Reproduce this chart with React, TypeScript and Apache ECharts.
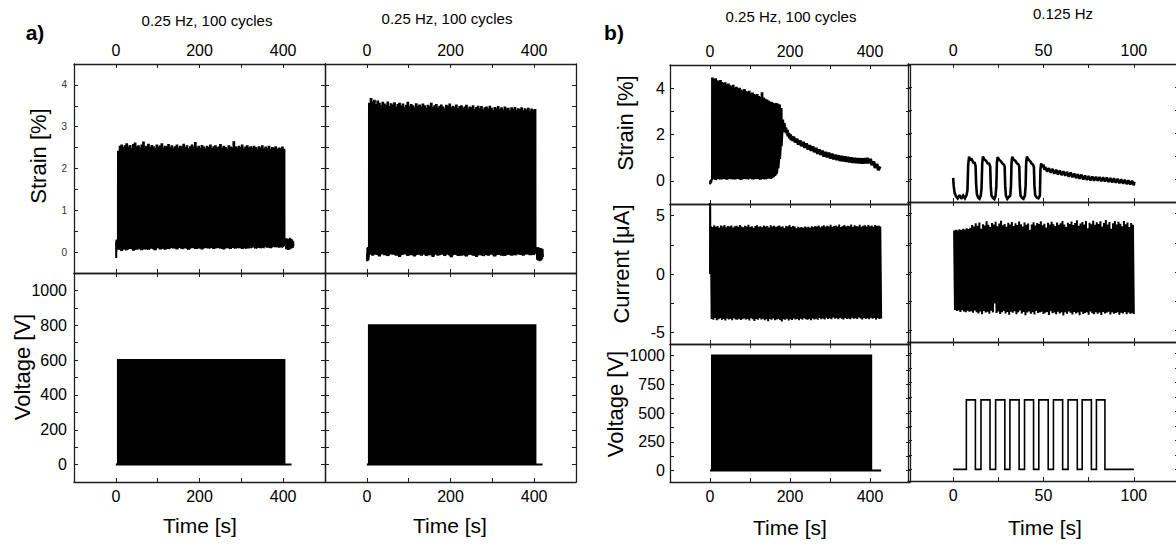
import React, { useEffect, useRef } from "react";
import * as echarts from "echarts";

type Pt = [number, number];

// ---------------- data ----------------
const CYCLES = 100; // 100 cycles
const PERIOD_025HZ = 4; // s, 0.25 Hz
const CYCLE_START = 5; // s

// tick / label values
const aTimeTicks = [0, 100, 200, 300, 400];
const aTimeLabels = [0, 200, 400];
const aStrainTicks = [0, 0.5, 1, 1.5, 2, 2.5, 3, 3.5, 4];
const aStrainLabels = [0, 1, 2, 3, 4];
const aVoltTicks = [0, 100, 200, 300, 400, 500, 600, 700, 800, 900, 1000];
const aVoltLabels = [0, 200, 400, 600, 800, 1000];
const bTimeTicks = [0, 100, 200, 300, 400];
const bTimeLabels = [0, 200, 400];
const bShortTimeTicks = [0, 25, 50, 75, 100];
const bShortTimeLabels = [0, 50, 100];
const bStrainTicks = [0, 1, 2, 3, 4];
const bStrainLabels = [0, 2, 4];
const bCurrentTicks = [-5, -2.5, 0, 2.5, 5];
const bCurrentLabels = [-5, 0, 5];
const bVoltTicks = [0, 125, 250, 375, 500, 625, 750, 875, 1000];
const bVoltLabels = [0, 250, 500, 750, 1000];

// voltage amplitudes [V]
const voltAmplitudes = { aLeft: 600, aRight: 800, bLeft: 1000, bRight: 600 };

// a) left strain: per-cycle peak / trough [%]
const aLeftStrainPeaks = [
  2.40, 2.52, 2.55, 2.49, 2.53, 2.58, 2.50, 2.54, 2.47, 2.56,
  2.60, 2.51, 2.53, 2.48, 2.55, 2.62, 2.50, 2.52, 2.57, 2.49,
  2.54, 2.51, 2.47, 2.55, 2.50, 2.53, 2.58, 2.48, 2.52, 2.50,
  2.56, 2.49, 2.53, 2.47, 2.51, 2.55, 2.48, 2.52, 2.50, 2.57,
  2.49, 2.53, 2.46, 2.51, 2.55, 2.50, 2.61, 2.48, 2.52, 2.47,
  2.54, 2.50, 2.46, 2.52, 2.49, 2.55, 2.47, 2.51, 2.53, 2.48,
  2.50, 2.56, 2.47, 2.52, 2.49, 2.45, 2.53, 2.50, 2.48, 2.63,
  2.51, 2.47, 2.52, 2.49, 2.55, 2.46, 2.50, 2.53, 2.48, 2.51,
  2.47, 2.52, 2.49, 2.45, 2.51, 2.48, 2.53, 2.46, 2.50, 2.47,
  2.52, 2.45, 2.49, 2.47, 2.51, 2.44, 2.48, 2.46, 2.50, 2.45,
];
const aLeftStrainTroughs = [
  0.06, 0.09, 0.03, 0.11, 0.07, 0.05, 0.10, 0.08, 0.12, 0.04,
  0.09, 0.06, 0.11, 0.08, 0.05, 0.13, 0.07, 0.10, 0.06, 0.09,
  0.12, 0.08, 0.05, 0.10, 0.14, 0.07, 0.09, 0.11, 0.06, 0.13,
  0.08, 0.10, 0.15, 0.09, 0.12, 0.07, 0.11, 0.14, 0.08, 0.10,
  0.13, 0.09, 0.06, 0.12, 0.10, 0.14, 0.08, 0.11, 0.09, 0.13,
  0.07, 0.12, 0.10, 0.15, 0.09, 0.11, 0.13, 0.08, 0.12, 0.10,
  0.14, 0.09, 0.11, 0.07, 0.13, 0.10, 0.12, 0.08, 0.15, 0.11,
  0.09, 0.13, 0.10, 0.14, 0.08, 0.12, 0.11, 0.09, 0.13, 0.10,
  0.12, 0.15, 0.09, 0.11, 0.14, 0.10, 0.13, 0.12, 0.16, 0.11,
  0.14, 0.10, 0.13, 0.15, 0.12, 0.16, 0.11, 0.14, 0.13, 0.15,
];
const aLeftStrainPre: Pt[] = [
  [0.6, 0.24], [0.9, -0.14], [1.3, 0.29], [1.7, 0.02], [2.1, 0.3], [2.5, 0.06],
  [2.9, 0.27], [3.3, 0.1], [3.7, 0.3], [4.1, 0.13], [4.5, 0.28], [4.9, 0.16],
];
const aLeftStrainPost: Pt[] = [
  [406, 0.31], [407, 0.07], [408, 0.33], [409, 0.1], [410, 0.29], [411, 0.05],
  [412, 0.32], [413, 0.09], [414, 0.3], [415, 0.06], [416, 0.34], [417, 0.11],
  [418, 0.3], [419, 0.08], [420, 0.32], [421, 0.12], [422, 0.28], [423, 0.1],
  [424, 0.26], [424.5, 0.14],
];

// a) right strain
const aRightStrainPeaks = [
  3.55, 3.66, 3.58, 3.62, 3.52, 3.60, 3.55, 3.49, 3.57, 3.53,
  3.50, 3.58, 3.47, 3.54, 3.51, 3.56, 3.46, 3.52, 3.55, 3.48,
  3.53, 3.45, 3.50, 3.57, 3.47, 3.52, 3.49, 3.44, 3.54, 3.48,
  3.51, 3.46, 3.53, 3.49, 3.43, 3.50, 3.47, 3.55, 3.45, 3.49,
  3.52, 3.44, 3.48, 3.51, 3.46, 3.42, 3.50, 3.47, 3.53, 3.44,
  3.48, 3.45, 3.51, 3.42, 3.47, 3.49, 3.43, 3.46, 3.50, 3.41,
  3.46, 3.44, 3.49, 3.40, 3.45, 3.48, 3.42, 3.47, 3.39, 3.44,
  3.46, 3.41, 3.48, 3.43, 3.38, 3.45, 3.42, 3.47, 3.40, 3.44,
  3.39, 3.46, 3.41, 3.43, 3.37, 3.44, 3.40, 3.45, 3.38, 3.42,
  3.40, 3.44, 3.37, 3.42, 3.39, 3.43, 3.36, 3.41, 3.38, 3.40,
];
const aRightStrainTroughs = [
  -0.05, -0.02, -0.08, 0.01, -0.06, -0.03, -0.10, -0.04, 0.00, -0.07,
  -0.03, -0.09, -0.05, 0.02, -0.06, -0.02, -0.08, -0.04, -0.11, -0.03,
  -0.06, 0.01, -0.05, -0.09, -0.02, -0.07, -0.04, -0.10, -0.03, -0.06,
  0.00, -0.08, -0.05, -0.02, -0.09, -0.04, -0.07, -0.03, -0.11, -0.05,
  -0.02, -0.08, -0.04, -0.06, 0.01, -0.09, -0.05, -0.03, -0.07, -0.12,
  -0.04, -0.06, -0.02, -0.09, -0.05, -0.08, -0.03, -0.07, -0.10, -0.04,
  -0.06, -0.02, -0.08, -0.05, -0.11, -0.03, -0.07, -0.04, -0.09, -0.06,
  -0.03, -0.08, -0.05, -0.02, -0.07, -0.10, -0.04, -0.06, -0.03, -0.08,
  -0.05, -0.09, -0.02, -0.06, -0.04, -0.08, -0.03, -0.07, -0.05, -0.01,
  -0.06, -0.04, -0.08, -0.03, -0.05, -0.02, -0.07, -0.04, -0.06, -0.03,
];
const aRightStrainPre: Pt[] = [
  [0.4, -0.05], [0.8, -0.22], [1.3, 0.1], [1.8, -0.18], [2.3, 0.12],
  [2.8, -0.15], [3.3, 0.08], [3.8, -0.2], [4.3, 0.1], [4.8, -0.12],
];
const aRightStrainPost: Pt[] = [
  [406, 0.1], [407, -0.18], [408, 0.12], [409, -0.2], [410, 0.08], [411, -0.15],
  [412, 0.11], [413, -0.22], [414, 0.09], [415, -0.17], [416, 0.1], [417, -0.2],
  [418, 0.06], [419, -0.16], [420, 0.08], [421, -0.12],
];

// b) left strain: 45 cycles before failure, then relaxation band
const bLeftStrainPeaks = [
  4.42, 4.35, 4.38, 4.30, 4.27, 4.31, 4.22, 4.18, 4.21, 4.12,
  4.16, 4.08, 4.05, 4.10, 3.98, 4.02, 3.95, 3.97, 3.90, 3.86,
  3.92, 3.83, 3.80, 3.85, 3.74, 3.77, 3.70, 3.66, 3.71, 3.62,
  3.58, 3.78, 3.55, 3.50, 3.47, 3.42, 3.38, 3.36, 3.33, 3.30,
  3.32, 3.28, 3.25, 3.10, 2.60,
];
const bLeftStrainTroughs = [
  0.08, 0.12, 0.05, 0.10, 0.14, 0.07, 0.11, 0.09, 0.13, 0.06,
  0.10, 0.15, 0.08, 0.12, 0.07, 0.11, 0.14, 0.09, 0.06, 0.12,
  0.10, 0.13, 0.08, 0.11, 0.15, 0.07, 0.12, 0.09, 0.14, 0.10,
  0.06, 0.13, 0.11, 0.08, 0.12, 0.15, 0.10, 0.13, 0.18, 0.22,
  0.30, 0.55, 0.95, 1.50, 2.10,
];
const bLeftStrainPre: Pt[] = [
  [0, -0.15], [0.8, 0.02], [1.6, -0.12], [2.4, 0.05], [3.2, -0.06], [4.2, 0.04],
];
const bLeftStrainTail: Pt[] = [
  [185, 2.5], [187, 2.2], [189, 2.3], [191, 2.05], [193, 2.2], [195, 1.92],
  [197, 2.06], [199, 1.84], [201, 2.0], [203, 1.76], [205, 1.92], [207, 1.72],
  [209, 1.9], [213, 1.66], [217, 1.82], [221, 1.56], [225, 1.74], [229, 1.5],
  [233, 1.68], [237, 1.43], [241, 1.61], [245, 1.36], [249, 1.54], [253, 1.3],
  [257, 1.48], [261, 1.24], [265, 1.42], [269, 1.17], [273, 1.36], [277, 1.12],
  [281, 1.3], [285, 1.05], [289, 1.25], [293, 1.02], [297, 1.21], [301, 0.97],
  [305, 1.17], [309, 0.93], [313, 1.13], [317, 0.9], [321, 1.1], [325, 0.86],
  [329, 1.07], [333, 0.84], [337, 1.05], [341, 0.82], [345, 1.03], [349, 0.8],
  [353, 1.01], [357, 0.78], [361, 0.99], [365, 0.77], [369, 0.98], [373, 0.76],
  [377, 0.97], [381, 0.75], [385, 0.97], [389, 0.76], [393, 0.99], [397, 0.76],
  [401, 0.95], [405, 0.68], [409, 0.84], [413, 0.56], [417, 0.73], [421, 0.46],
  [425, 0.62],
];

// b) left current: spike maxima / minima [µA]
const bLeftCurrentStartSpike: Pt[] = [[0, 0], [0.3, 7], [1.2, 0]];
const bLeftCurrentUpper = [
  4.10, 4.02, 4.18, 4.05, 4.12, 3.96, 4.15, 4.08, 4.20, 4.01,
  4.11, 4.06, 4.16, 3.98, 4.09, 4.13, 4.04, 4.19, 4.07, 4.00,
  4.14, 4.08, 4.22, 4.03, 4.10, 3.97, 4.12, 4.17, 4.05, 4.09,
  4.01, 4.15, 4.06, 4.11, 3.99, 4.18, 4.07, 4.13, 4.02, 4.10,
  4.16, 4.04, 4.09, 3.95, 4.12, 4.06, 4.20, 4.03, 4.11, 4.08,
  3.93, 4.05, 3.98, 4.02, 3.96, 4.07, 4.00, 4.04, 3.97, 4.09,
  4.03, 4.12, 4.06, 4.15, 4.01, 4.10, 4.18, 4.05, 4.13, 4.08,
  4.21, 4.04, 4.11, 4.16, 4.07, 4.24, 4.02, 4.12, 4.19, 4.06,
  4.14, 4.09, 4.25, 4.03, 4.17, 4.11, 4.08, 4.22, 4.05, 4.13,
  4.18, 4.07, 4.20, 4.10, 4.15, 4.04, 4.19, 4.12, 4.16, 4.08,
];
const bLeftCurrentLower = [
  -3.85, -3.92, -3.78, -3.96, -3.88, -3.80, -3.94, -3.86, -3.99, -3.82,
  -3.90, -3.84, -3.97, -3.79, -3.89, -3.93, -3.83, -3.95, -3.87, -3.81,
  -3.91, -3.86, -3.98, -3.80, -3.88, -4.02, -3.85, -3.92, -3.79, -3.90,
  -3.84, -3.96, -3.88, -4.05, -3.86, -3.93, -3.81, -3.97, -3.89, -3.85,
  -3.94, -4.08, -3.87, -3.92, -3.83, -3.99, -3.88, -3.95, -3.82, -3.90,
  -3.86, -3.96, -3.84, -3.91, -3.79, -3.88, -3.93, -3.85, -3.97, -3.81,
  -3.89, -3.84, -3.92, -3.78, -3.87, -3.82, -3.90, -3.75, -3.86, -3.80,
  -3.88, -3.73, -3.84, -3.79, -3.87, -3.76, -3.83, -3.90, -3.78, -3.85,
  -3.81, -3.88, -3.74, -3.84, -3.79, -3.86, -3.72, -3.82, -3.89, -3.77,
  -3.85, -3.80, -3.87, -3.75, -3.83, -3.78, -3.91, -3.80, -3.86, -3.82,
];
const bLeftCurrentSpacing = 4.28; // s between spike pairs
const bLeftCurrentStart = 2;

// b) right strain (0.125 Hz), [t, strain]
const bRightStrain: Pt[] = [
  [0, 0.05], [0.3, -0.3], [0.8, -0.6], [1.5, -0.74], [2.5, -0.84], [3.5, -0.7],
  [4.5, -0.86], [5.5, -0.72], [6.5, -0.84], [7.4, -0.7],
  [7.9, -0.5], [8.3, 0.6], [8.8, 0.97], [9.5, 0.84], [10.3, 0.86], [11.1, 0.72],
  [11.9, 0.7], [12.4, 0.58], [12.7, -0.2], [13.1, -0.65], [13.8, -0.8], [14.6, -0.86], [15.3, -0.72],
  [15.7, -0.4], [16.1, 0.7], [16.5, 0.98], [17.3, 0.84], [18.2, 0.8], [19.1, 0.68],
  [20.0, 0.66], [20.5, 0.54], [20.8, -0.3], [21.2, -0.72], [22.0, -0.82], [22.8, -0.87], [23.5, -0.72],
  [23.9, -0.3], [24.2, 0.7], [24.6, 0.95], [25.4, 0.84], [26.3, 0.78], [27.2, 0.68],
  [28.0, 0.64], [28.5, 0.54], [28.8, -0.3], [29.2, -0.72], [30.0, -0.86], [30.8, -0.78], [31.6, -0.72],
  [32.0, -0.3], [32.3, 0.7], [32.7, 0.97], [33.5, 0.83], [34.4, 0.79], [35.3, 0.68],
  [36.1, 0.64], [36.6, 0.54], [36.9, -0.3], [37.3, -0.72], [38.1, -0.82], [38.9, -0.86], [39.7, -0.72],
  [40.1, -0.3], [40.4, 0.7], [40.8, 0.97], [41.6, 0.85], [42.5, 0.78], [43.4, 0.68],
  [44.2, 0.62], [44.7, 0.52], [45.0, -0.3], [45.4, -0.7], [46.2, -0.8], [47.2, -0.84], [48.0, -0.72],
  [48.3, 0.4], [48.7, 0.68], [49.2, 0.52], [50, 0.62], [50.5, 0.4], [51, 0.52], [52, 0.32],
  [53, 0.47], [54, 0.27], [55, 0.44], [56, 0.23], [57, 0.4], [58, 0.2], [59, 0.37],
  [60, 0.17], [61, 0.34], [62, 0.14], [63, 0.31], [64, 0.1], [65, 0.28], [66, 0.08],
  [67, 0.24], [68, 0.04], [69, 0.21], [70, 0.01], [71, 0.19], [72, -0.02], [73, 0.15],
  [74, -0.04], [75, 0.13], [76, -0.06], [77, 0.11], [78, -0.07], [79, 0.1], [80, -0.08],
  [81, 0.09], [82, -0.1], [83, 0.07], [84, -0.11], [85, 0.06], [86, -0.13], [87, 0.04],
  [88, -0.15], [89, 0.03], [90, -0.16], [91, 0.01], [92, -0.18], [93, -0.01], [94, -0.2],
  [95, -0.03], [96, -0.22], [97, -0.06], [98, -0.24], [99, -0.08], [100, -0.27], [100.3, -0.12],
];

// b) right current: noise maxima / minima [µA]
const bRightCurrentUpper = [
  3.55, 3.62, 3.58, 3.66, 3.60, 3.70, 3.64, 3.75, 3.68, 3.80,
  4.02, 3.90, 4.18, 3.96, 4.25, 3.70, 4.10, 3.98, 4.35, 4.05,
  3.85, 4.20, 4.08, 4.30, 3.92, 4.15, 4.40, 4.00, 4.12, 3.88,
  4.22, 4.06, 4.28, 3.95, 4.18, 4.02, 4.33, 4.10, 3.90, 4.24,
  4.05, 4.16, 3.60, 4.08, 4.26, 3.98, 4.20, 4.12, 4.35, 4.00,
  4.14, 3.82, 4.22, 4.06, 4.30, 4.10, 3.94, 4.25, 4.04, 4.18,
  4.38, 4.08, 3.86, 4.22, 4.12, 4.32, 4.02, 4.20, 4.44, 3.96,
  4.15, 4.28, 4.06, 4.36, 3.75, 4.22, 4.10, 4.40, 4.04, 4.26,
  4.12, 4.34, 3.90, 4.20, 4.45, 4.08, 4.28, 3.70, 4.18, 4.38,
  4.06, 4.30, 4.14, 3.92, 4.36, 4.10, 4.24, 3.85, 4.20, 4.05,
];
const bRightCurrentLower = [
  -3.25, -3.35, -3.30, -3.42, -3.28, -3.38, -3.45, -3.32, -3.40, -3.36,
  -3.50, -3.30, -3.44, -3.55, -3.38, -3.62, -3.35, -3.48, -3.40, -3.58,
  -3.32, -3.46, -2.70, -3.52, -3.38, -3.60, -3.44, -3.34, -3.56, -3.42,
  -3.66, -3.40, -3.50, -3.36, -3.62, -3.45, -3.30, -3.55, -3.42, -3.70,
  -3.48, -3.38, -3.58, -3.44, -3.64, -3.35, -3.52, -3.46, -3.40, -3.60,
  -3.50, -3.42, -3.68, -3.36, -3.54, -3.48, -3.62, -3.40, -3.56, -3.46,
  -3.72, -3.44, -3.58, -3.38, -3.50, -3.64, -3.42, -3.56, -3.48, -3.70,
  -3.40, -3.60, -3.52, -3.45, -3.66, -3.38, -3.54, -3.62, -3.44, -3.58,
  -3.48, -3.68, -3.42, -3.56, -3.50, -3.40, -3.64, -3.46, -3.58, -3.52,
  -3.44, -3.66, -3.50, -3.56, -3.42, -3.62, -3.48, -3.58, -3.54, -3.60,
];
const bRightCurrentSpacing = 1; // s
const bRightCurrentStart = 0.5;

// b) right voltage pulse edges [s]
const bRightVoltRises = [7.3, 15.4, 23.5, 31.4, 39.5, 47.4, 55.5, 63.6, 71.4, 79.3];
const bRightVoltFalls = [12.3, 20.4, 28.6, 36.5, 44.5, 52.6, 60.6, 68.7, 76.5, 84.0];

// ---------------- builders ----------------
function cycleStrain(pre: Pt[], peaks: number[], troughs: number[], start: number, period: number, post: Pt[]): Pt[] {
  const d: Pt[] = pre.slice();
  const half = period / 2;
  peaks.forEach((p, k) => {
    const t0 = start + k * period;
    d.push([t0, troughs[k]], [t0 + 0.15, p], [t0 + half, p], [t0 + half + 0.15, troughs[k]]);
  });
  return d.concat(post);
}
function squareWave(amp: number, cycles: number, start: number, period: number, end: number): Pt[] {
  const d: Pt[] = [[0, 0]];
  for (let k = 0; k < cycles; k++) {
    const t0 = start + k * period;
    const t1 = t0 + period / 2;
    d.push([t0, 0], [t0, amp], [t1, amp], [t1, 0]);
  }
  d.push([end, 0]);
  return d;
}
function spikeTrain(head: Pt[], up: number[], lo: number[], start: number, spacing: number): Pt[] {
  const d: Pt[] = head.slice();
  up.forEach((u, i) => {
    const t = start + i * spacing;
    d.push([t, u], [t + spacing / 2, lo[i]]);
  });
  return d;
}
function pulseTrain(rises: number[], falls: number[], amp: number, end: number): Pt[] {
  const d: Pt[] = [[0, 0]];
  rises.forEach((r, i) => d.push([r, 0], [r, amp], [falls[i], amp], [falls[i], 0]));
  d.push([end, 0]);
  return d;
}

const FONT = '"Liberation Sans", Arial, Helvetica, sans-serif';
const AXIS_COLOR = "#1e1e1e";
const DENSE = 2; // stroke width for densely cycled traces

type Range = { min: number; max: number; ticks: number[]; labels: number[] };
type Panel = {
  box: [number, number, number, number];
  x: Range;
  y: Range;
  topLabels: boolean;
  bottomLabels: boolean;
  leftLabels: boolean;
  ySize?: number;
  yColor?: string;
  yMargin?: number;
  series: { data: Pt[]; width: number }[];
};

function buildOption() {
  const aX: Range = { min: -100, max: 500, ticks: aTimeTicks, labels: aTimeLabels };
  const aS: Range = { min: -0.5, max: 4.5, ticks: aStrainTicks, labels: aStrainLabels };
  const aV: Range = { min: -100, max: 1100, ticks: aVoltTicks, labels: aVoltLabels };
  const bX: Range = { min: -100, max: 500, ticks: bTimeTicks, labels: bTimeLabels };
  const bX2: Range = { min: -25, max: 125, ticks: bShortTimeTicks, labels: bShortTimeLabels };
  const bS: Range = { min: -1, max: 5, ticks: bStrainTicks, labels: bStrainLabels };
  const bC: Range = { min: -6, max: 6, ticks: bCurrentTicks, labels: bCurrentLabels };
  const bV: Range = { min: -100, max: 1100, ticks: bVoltTicks, labels: bVoltLabels };

  const panels: Panel[] = [
    {
      box: [74, 64, 251, 209], x: aX, y: aS, topLabels: true, bottomLabels: false, leftLabels: true,
      ySize: 10, yColor: "#333", yMargin: 7,
      series: [{ data: cycleStrain(aLeftStrainPre, aLeftStrainPeaks, aLeftStrainTroughs, CYCLE_START, PERIOD_025HZ, aLeftStrainPost), width: DENSE }],
    },
    {
      box: [325, 64, 251, 209], x: aX, y: aS, topLabels: true, bottomLabels: false, leftLabels: false,
      series: [{ data: cycleStrain(aRightStrainPre, aRightStrainPeaks, aRightStrainTroughs, CYCLE_START, PERIOD_025HZ, aRightStrainPost), width: DENSE }],
    },
    {
      box: [74, 273, 251, 209], x: aX, y: aV, topLabels: false, bottomLabels: true, leftLabels: true, yMargin: 7,
      series: [{ data: squareWave(voltAmplitudes.aLeft, CYCLES, CYCLE_START, PERIOD_025HZ, 420), width: DENSE }],
    },
    {
      box: [325, 273, 251, 209], x: aX, y: aV, topLabels: false, bottomLabels: true, leftLabels: false,
      series: [{ data: squareWave(voltAmplitudes.aRight, CYCLES, CYCLE_START, PERIOD_025HZ, 420), width: DENSE }],
    },
    {
      box: [670, 65, 240, 139], x: bX, y: bS, topLabels: true, bottomLabels: false, leftLabels: true, yMargin: 5,
      series: [
        { data: cycleStrain(bLeftStrainPre, bLeftStrainPeaks, bLeftStrainTroughs, CYCLE_START, PERIOD_025HZ, []), width: DENSE },
        { data: [[183.15, bLeftStrainTroughs[bLeftStrainTroughs.length - 1]] as Pt].concat(bLeftStrainTail), width: 3.2 },
      ],
    },
    {
      box: [670, 204, 240, 140], x: bX, y: bC, topLabels: false, bottomLabels: false, leftLabels: true, yMargin: 5,
      series: [{ data: spikeTrain(bLeftCurrentStartSpike, bLeftCurrentUpper, bLeftCurrentLower, bLeftCurrentStart, bLeftCurrentSpacing), width: DENSE }],
    },
    {
      box: [670, 344, 240, 138], x: bX, y: bV, topLabels: false, bottomLabels: true, leftLabels: true, yMargin: 5,
      series: [{ data: squareWave(voltAmplitudes.bLeft, CYCLES, CYCLE_START, PERIOD_025HZ, 428), width: DENSE }],
    },
    {
      box: [908, 64, 271, 138], x: bX2, y: bS, topLabels: true, bottomLabels: false, leftLabels: false,
      series: [{ data: bRightStrain, width: 2.6 }],
    },
    {
      box: [908, 202, 271, 140], x: bX2, y: bC, topLabels: false, bottomLabels: false, leftLabels: false,
      series: [{ data: spikeTrain([], bRightCurrentUpper, bRightCurrentLower, bRightCurrentStart, bRightCurrentSpacing), width: DENSE }],
    },
    {
      box: [908, 342, 271, 139], x: bX2, y: bV, topLabels: false, bottomLabels: true, leftLabels: false,
      series: [{ data: pulseTrain(bRightVoltRises, bRightVoltFalls, voltAmplitudes.bRight, 100), width: 1.6 }],
    },
  ];

  const axis = (gridIndex: number, position: string, r: Range, show: boolean, size: number, color: string, margin: number) => ({
    type: "value",
    gridIndex,
    position,
    min: r.min,
    max: r.max,
    axisLine: { show: true, onZero: false, lineStyle: { color: AXIS_COLOR, width: 1.3 } },
    axisTick: { show: true, inside: true, length: 4, customValues: r.ticks, lineStyle: { color: AXIS_COLOR, width: 1 } },
    minorTick: { show: false },
    axisLabel: {
      show,
      customValues: r.labels,
      fontSize: size,
      color,
      fontFamily: FONT,
      margin,
      formatter: (v: number) => String(v),
    },
    splitLine: { show: false },
  });

  const grid: any[] = [];
  const xAxis: any[] = [];
  const yAxis: any[] = [];
  const series: any[] = [];
  panels.forEach((p, i) => {
    grid.push({ left: p.box[0], top: p.box[1], width: p.box[2], height: p.box[3], containLabel: false, outerBoundsMode: "none" });
    xAxis.push(axis(i, "bottom", p.x, p.bottomLabels, 16, "#000", 6));
    xAxis.push(axis(i, "top", p.x, p.topLabels, 16, "#000", 6));
    yAxis.push(axis(i, "left", p.y, p.leftLabels, p.ySize ?? 16, p.yColor ?? "#000", p.yMargin ?? 6));
    yAxis.push(axis(i, "right", p.y, false, 16, "#000", 6));
    p.series.forEach((s) => {
      series.push({
        type: "line",
        xAxisIndex: 2 * i,
        yAxisIndex: 2 * i,
        data: s.data,
        showSymbol: false,
        symbol: "none",
        silent: true,
        clip: true,
        lineStyle: { color: "#000", width: s.width, join: "miter", miterLimit: 2 },
      });
    });
  });

  const txt = (text: string, x: number, y: number, size: number, opts: any = {}) => ({
    type: "text",
    x,
    y,
    rotation: opts.rotate ? Math.PI / 2 : 0,
    silent: true,
    style: {
      text,
      fill: "#000",
      font: `${opts.bold ? "bold " : ""}${size}px ${FONT}`,
      align: "center",
      verticalAlign: "middle",
    },
  });

  const graphic = [
    txt("a)", 35, 32, 21, { bold: true }),
    txt("b)", 614, 32, 21, { bold: true }),
    txt("0.25 Hz, 100 cycles", 207, 20, 15),
    txt("0.25 Hz, 100 cycles", 447, 18, 15),
    txt("0.25 Hz, 100 cycles", 791, 16, 15),
    txt("0.125 Hz", 1063, 13, 15),
    txt("Strain [%]", 38, 156, 22, { rotate: true }),
    txt("Voltage [V]", 22, 367, 22, { rotate: true }),
    txt("Strain [%]", 625, 123, 22, { rotate: true }),
    txt("Current [μA]", 621, 264, 22, { rotate: true }),
    txt("Voltage [V]", 615, 404, 22, { rotate: true }),
    txt("Time [s]", 200, 525, 21),
    txt("Time [s]", 450, 525, 21),
    txt("Time [s]", 790, 527, 21),
    txt("Time [s]", 1045, 527, 21),
  ];

  return { animation: false, backgroundColor: "#fff", grid, xAxis, yAxis, series, graphic };
}

export default function App() {
  const ref = useRef<HTMLDivElement>(null);
  useEffect(() => {
    if (!ref.current) return;
    const chart = echarts.init(ref.current, null, { renderer: "svg" });
    chart.setOption(buildOption() as any);
    return () => chart.dispose();
  }, []);
  return (
    <div
      ref={ref}
      style={{ position: "fixed", left: 0, top: 0, width: 1176, height: 544, background: "#fff" }}
    />
  );
}
